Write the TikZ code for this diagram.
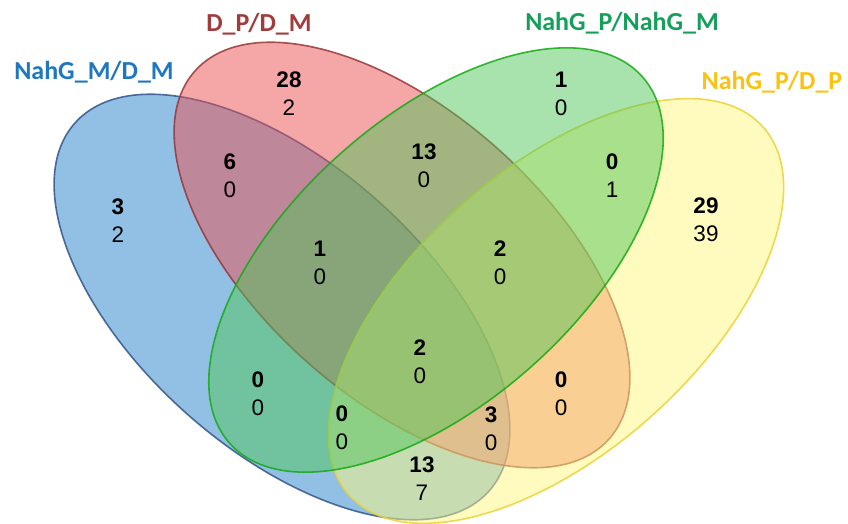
\documentclass[tikz,border=0pt]{standalone}
\usepackage{fontspec}
\setmainfont{Liberation Sans}
\newfontfamily\labfont{Carlito}
\definecolor{cA}{RGB}{37,129,201}
\definecolor{cB}{RGB}{235,79,81}
\definecolor{cC}{RGB}{81,197,89}
\definecolor{cD}{RGB}{255,248,128}
\definecolor{eA}{RGB}{50,85,140}
\definecolor{eB}{RGB}{150,55,55}
\definecolor{eC}{RGB}{20,170,20}
\definecolor{eD}{RGB}{235,210,50}
\definecolor{lA}{RGB}{31,119,190}
\definecolor{lB}{RGB}{160,60,60}
\definecolor{lC}{RGB}{20,160,90}
\definecolor{lD}{RGB}{250,195,20}
\tikzset{
  setshape/.style={line width=1.6pt, fill opacity=0.5, draw opacity=0.85},
  num/.style={align=center, font=\fontsize{22.5}{28}\selectfont, inner sep=0pt, text=black},
  setlabel/.style={font=\labfont\bfseries\fontsize{26}{26}\selectfont, inner sep=0pt, anchor=center}
}
\begin{document}
\begin{tikzpicture}[x=1pt,y=1pt]
\useasboundingbox (0,0) rectangle (848,523);
% ellipses (y-up coordinates: y = 523 - image y)
\draw[setshape, fill=cA, draw=eA, rotate around={-41.6:(282,216)}] (282,216) ellipse [x radius=277pt, y radius=143pt];
\draw[setshape, fill=cB, draw=eB, rotate around={-41.6:(402,268)}] (402,268) ellipse [x radius=277pt, y radius=143pt];
\draw[setshape, fill=cD, draw=eD, rotate around={41.6:(556,212)}] (556,212) ellipse [x radius=277pt, y radius=142pt];
\draw[setshape, fill=cC, draw=eC, rotate around={41.6:(436,263)}] (436,263) ellipse [x radius=276pt, y radius=143pt];
% set labels
\node[setlabel, text=lA] (labA) at (94,451) {NahG\_M/D\_M};
\node[setlabel, text=lB] (labB) at (259,499) {D\_P/D\_M};
\node[setlabel, text=lC] (labC) at (622,500) {NahG\_P/NahG\_M};
\node[setlabel, text=lD] (labD) at (772,441) {NahG\_P/D\_P};
% region counts
\node[num] (rA) at (118,302) {\textbf{3}\\2};
\node[num] (rB) at (289,429) {\textbf{28}\\2};
\node[num] (rC) at (561,429) {\textbf{1}\\0};
\node[num] (rD) at (706,303) {\textbf{29}\\39};
\node[num] (rAB) at (230,347) {\textbf{6}\\0};
\node[num] (rBC) at (424,357) {\textbf{13}\\0};
\node[num] (rCD) at (612,347) {\textbf{0}\\1};
\node[num] (rABC) at (320,260) {\textbf{1}\\0};
\node[num] (rBCD) at (500,260) {\textbf{2}\\0};
\node[num] (rABCD) at (420,161) {\textbf{2}\\0};
\node[num] (rAC) at (258,129) {\textbf{0}\\0};
\node[num] (rBD) at (561,129) {\textbf{0}\\0};
\node[num] (rACD) at (342,95) {\textbf{0}\\0};
\node[num] (rABD) at (491,94) {\textbf{3}\\0};
\node[num] (rAD) at (422,44) {\textbf{13}\\7};
\end{tikzpicture}
\end{document}
